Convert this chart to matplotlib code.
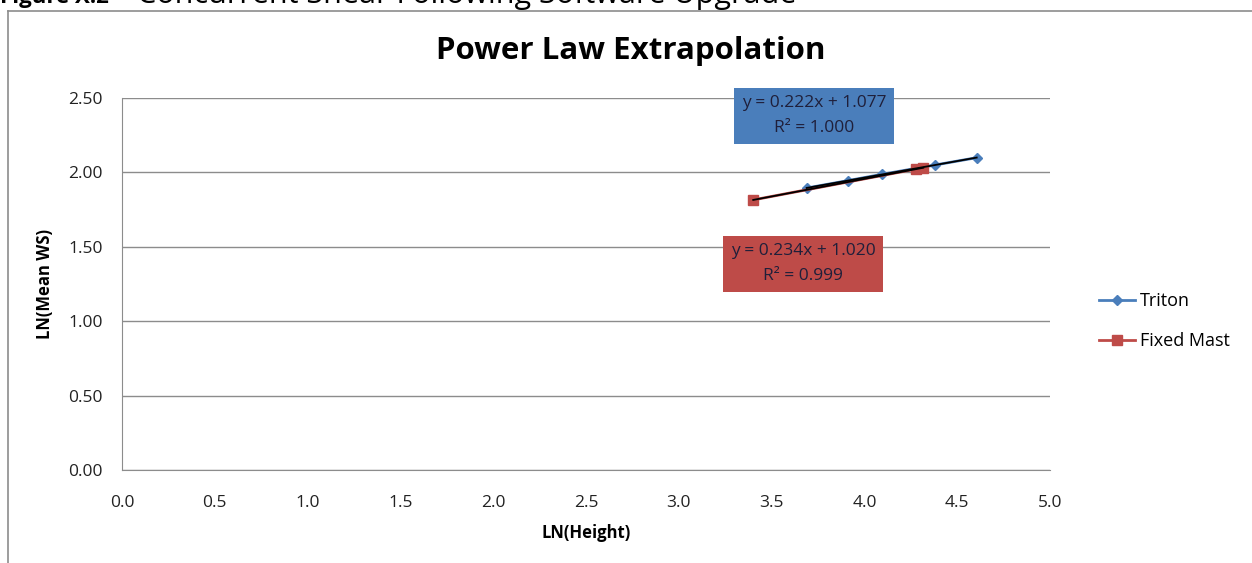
import numpy as np
import matplotlib
matplotlib.use('Agg')
import matplotlib.pyplot as plt

# data
triton_x = [3.689, 3.912, 4.094, 4.382, 4.605]
triton_y = [1.895, 1.945, 1.987, 2.050, 2.099]
mast_x = [3.401, 4.277, 4.317]
mast_y = [1.815, 2.022, 2.031]
triton_eq = 'y = 0.222x + 1.077\nR² = 1.000'
mast_eq = 'y = 0.234x + 1.020\nR² = 0.999'
xticks = [0.0, 0.5, 1.0, 1.5, 2.0, 2.5, 3.0, 3.5, 4.0, 4.5, 5.0]
yticks = [0.0, 0.5, 1.0, 1.5, 2.0, 2.5]

plt.rcParams['font.family'] = ['Open Sans', 'DejaVu Sans']

W, H = 1252, 563
fig = plt.figure(figsize=(W / 100, H / 100), dpi=100)
ax = fig.add_axes([122 / W, 1 - 470 / H, (1050 - 122) / W, (470 - 98) / H])

# outer chart frame and the caption cut by the top edge
fig.add_artist(plt.Line2D([8 / W, 8 / W], [0, 1 - 11 / H], transform=fig.transFigure, color='#8c8c8c', lw=1.2))
fig.add_artist(plt.Line2D([8 / W, 1], [1 - 11 / H, 1 - 11 / H], transform=fig.transFigure, color='#8c8c8c', lw=1.2))
fig.text(0, 1 - 3 / H, 'Figure X.2', fontsize=16, fontweight='bold', va='baseline', ha='left')
fig.text(137 / W, 1 - 3 / H, 'Concurrent Shear Following Software Upgrade',
         fontsize=22, va='baseline', ha='left')

blue = '#4a7ebb'
red = '#be4b48'
ax.plot(triton_x, triton_y, color=blue, lw=2, marker='D', ms=5, label='Triton', zorder=3)
ax.plot(mast_x, mast_y, color=red, lw=2, marker='s', ms=7, label='Fixed Mast', zorder=3)

# linear trendlines
for xs, ys in [(triton_x, triton_y), (mast_x, mast_y)]:
    k, b = np.polyfit(xs, ys, 1)
    xx = np.array([min(xs), max(xs)])
    ax.plot(xx, k * xx + b, color='black', lw=1.3, zorder=4)

ax.text(3.73, 2.38, triton_eq, ha='center', va='center', fontsize=12.5, color='#1f1f3a',
        linespacing=1.75, bbox=dict(boxstyle='square,pad=0.45', fc=blue, ec='none'))
ax.text(3.67, 1.385, mast_eq, ha='center', va='center', fontsize=12.5, color='#1f1f3a',
        linespacing=1.75, bbox=dict(boxstyle='square,pad=0.45', fc=red, ec='none'))

ax.set_xlim(0, 5)
ax.set_ylim(0, 2.5)
ax.set_xticks(xticks)
ax.set_yticks(yticks)
ax.set_xticklabels(['%.1f' % v for v in xticks])
ax.set_yticklabels(['%.2f' % v for v in yticks])
ax.tick_params(length=0, labelsize=12.5, colors='#222222', pad=18)
ax.tick_params(axis='y', pad=14)
ax.grid(axis='y', color='#8c8c8c', lw=1)
ax.set_axisbelow(True)
for s in ['top', 'right']:
    ax.spines[s].set_visible(False)
for s in ['left', 'bottom']:
    ax.spines[s].set_color('#8c8c8c')

ax.set_xlabel('LN(Height)', fontsize=12, fontweight='bold', labelpad=9)
ax.set_ylabel('LN(Mean WS)', fontsize=12, fontweight='bold', labelpad=10)
ax.set_title('Power Law Extrapolation', fontsize=22.5, fontweight='bold', pad=28,
             x=(631 - 122) / (1050 - 122))

ax.legend(loc='center left', bbox_to_anchor=(1.035, 0.40), frameon=False,
          fontsize=13, handlelength=2.0, labelspacing=1.25, handletextpad=0.3)

fig.savefig('out.png', dpi=100, facecolor='white')
